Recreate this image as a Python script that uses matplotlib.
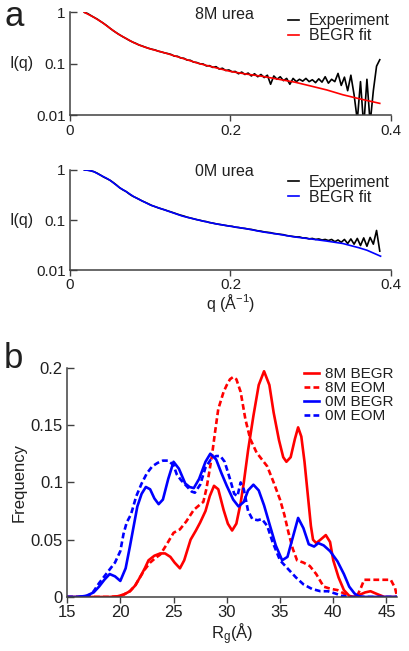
import numpy as np
import matplotlib.pyplot as plt
import matplotlib.transforms as mtransforms

plt.rcParams['font.family'] = ['Liberation Sans', 'DejaVu Sans']
plt.rcParams['mathtext.fontset'] = 'custom'
plt.rcParams['mathtext.rm'] = 'Liberation Sans'
plt.rcParams['mathtext.it'] = 'Liberation Sans:italic'

# ---- panel a : SAXS profiles ----
q_exp = np.round(0.018 + 0.004 * np.arange(93), 3)

I_exp_8M = [1.00, 0.95, 0.87, 0.80, 0.74, 0.67, 0.61, 0.55, 0.49, 0.44,
            0.40, 0.365, 0.335, 0.31, 0.285, 0.265, 0.25, 0.232, 0.222, 0.21,
            0.20, 0.192, 0.186, 0.176, 0.17, 0.163, 0.158, 0.152, 0.141, 0.140,
            0.130, 0.128, 0.118, 0.117, 0.108, 0.106, 0.100, 0.099, 0.091, 0.092,
            0.085, 0.088, 0.079, 0.082, 0.074, 0.076, 0.070, 0.071, 0.064, 0.069,
            0.062, 0.066, 0.058, 0.064, 0.056, 0.062, 0.054, 0.060, 0.040, 0.058,
            0.050, 0.056, 0.047, 0.052, 0.040, 0.052, 0.045, 0.050, 0.046, 0.052,
            0.045, 0.049, 0.043, 0.051, 0.044, 0.056, 0.042, 0.050, 0.045, 0.065,
            0.038, 0.055, 0.030, 0.060, 0.025, 0.008, 0.045, 0.006, 0.050, 0.007,
            0.030, 0.090, 0.120]

I_exp_0M = [1.00, 0.99, 0.96, 0.92, 0.86, 0.79, 0.72, 0.67, 0.62, 0.56,
            0.50, 0.44, 0.40, 0.37, 0.33, 0.30, 0.28, 0.26, 0.24, 0.225,
            0.21, 0.195, 0.185, 0.175, 0.167, 0.16, 0.152, 0.145, 0.138, 0.131,
            0.125, 0.12, 0.114, 0.11, 0.106, 0.102, 0.099, 0.095, 0.093, 0.089,
            0.087, 0.084, 0.082, 0.080, 0.078, 0.076, 0.075, 0.072, 0.071, 0.069,
            0.068, 0.066, 0.065, 0.063, 0.061, 0.060, 0.058, 0.057, 0.056, 0.054,
            0.053, 0.052, 0.051, 0.049, 0.048, 0.047, 0.046, 0.046, 0.044, 0.044,
            0.042, 0.043, 0.041, 0.042, 0.040, 0.041, 0.039, 0.041, 0.037, 0.040,
            0.036, 0.041, 0.034, 0.042, 0.033, 0.043, 0.031, 0.044, 0.030, 0.045,
            0.033, 0.062, 0.024]

q_fit_8M = [0.018, 0.03, 0.04, 0.05, 0.06, 0.07, 0.08, 0.09, 0.10, 0.12, 0.14,
            0.16, 0.18, 0.20, 0.22, 0.24, 0.26, 0.28, 0.30, 0.32, 0.34, 0.36, 0.386]
I_fit_8M = [1.0, 0.80, 0.64, 0.49, 0.38, 0.31, 0.255, 0.22, 0.195, 0.16, 0.128,
            0.102, 0.085, 0.071, 0.063, 0.057, 0.050, 0.044, 0.037, 0.031, 0.025,
            0.021, 0.017]

q_fit_0M = [0.018, 0.025, 0.03, 0.037, 0.045, 0.05, 0.062, 0.07, 0.08, 0.09, 0.10,
            0.12, 0.14, 0.16, 0.18, 0.20, 0.22, 0.24, 0.26, 0.28, 0.30, 0.32, 0.34,
            0.36, 0.37, 0.387]
I_fit_0M = [1.0, 0.97, 0.92, 0.80, 0.69, 0.62, 0.44, 0.37, 0.29, 0.24, 0.20,
            0.155, 0.12, 0.10, 0.085, 0.075, 0.067, 0.058, 0.052, 0.046, 0.042,
            0.038, 0.034, 0.028, 0.025, 0.019]

# ---- panel b : Rg distributions ----
rg_8M_begr = [15, 19, 19.7, 20.3, 20.9, 21.4, 21.9, 22.3, 22.65, 23.2, 23.75, 24.2,
              24.7, 25.1, 25.6, 26.0, 26.6, 27.1, 27.5, 28.0, 28.4, 28.8, 29.2, 29.7,
              30.1, 30.5, 30.9, 31.3, 31.6, 32.0, 32.5, 33.0, 33.5, 34.0, 34.4, 34.9,
              35.3, 35.6, 36.0, 36.4, 36.7, 37.0, 37.3, 37.6, 37.9, 38.1, 38.4, 38.8,
              39.3, 39.7, 40.0, 40.5, 41.0, 41.5, 41.9, 42.5, 43.0, 43.5, 44.0, 44.8, 46]
f_8M_begr = [0, 0, 0.0005, 0.002, 0.005, 0.010, 0.018, 0.025, 0.032, 0.036, 0.038, 0.038,
             0.035, 0.030, 0.025, 0.032, 0.050, 0.058, 0.065, 0.075, 0.088, 0.097, 0.094, 0.076,
             0.064, 0.058, 0.064, 0.082, 0.100, 0.128, 0.158, 0.185, 0.197, 0.185, 0.161, 0.137,
             0.122, 0.118, 0.122, 0.138, 0.148, 0.140, 0.118, 0.090, 0.062, 0.050, 0.047, 0.050,
             0.054, 0.048, 0.032, 0.017, 0.006, 0.001, 0, 0.002, 0.004, 0.005, 0.003, 0, 0]

rg_8M_eom = [15, 19, 19.7, 20.3, 20.9, 21.4, 21.9, 22.3, 22.8, 23.3, 23.75, 24.3, 25.0,
             25.6, 26.2, 26.9, 27.4, 27.8, 28.1, 28.3, 28.6, 28.9, 29.2, 29.7, 30.0,
             30.3, 30.6, 30.9, 31.3, 31.75, 32.2, 32.8, 33.8, 34.4, 35.0, 35.4, 35.8,
             36.2, 36.6, 37.2, 37.8, 38.4, 39.1, 39.8, 40.4, 41.0, 41.5, 42.2, 42.6,
             42.9, 43.4, 44.5, 45.4, 45.8, 46]
f_8M_eom = [0, 0, 0.0005, 0.002, 0.005, 0.010, 0.018, 0.024, 0.030, 0.034, 0.037, 0.045, 0.056,
            0.059, 0.066, 0.076, 0.080, 0.083, 0.095, 0.106, 0.123, 0.144, 0.164, 0.179, 0.185,
            0.190, 0.192, 0.190, 0.179, 0.155, 0.138, 0.126, 0.114, 0.100, 0.085, 0.072, 0.056,
            0.042, 0.032, 0.030, 0.027, 0.020, 0.009, 0.007, 0.006, 0.003, 0, 0, 0.008,
            0.015, 0.015, 0.015, 0.015, 0.008, 0]

rg_0M_begr = [15, 16, 16.8, 17.5, 18.0, 18.5, 19.0, 19.5, 20.0, 20.5, 20.9, 21.3, 21.6,
              22.0, 22.4, 22.8, 23.2, 23.6, 24.0, 24.5, 25.0, 25.5, 26.1, 26.5, 26.9,
              27.4, 28.0, 28.45, 29.0, 29.5, 30.0, 30.6, 31.1, 31.6, 32.0, 32.5, 33.0,
              33.5, 34.0, 34.6, 35.2, 35.7, 36.2, 36.7, 37.2, 37.7, 38.2, 38.6, 39.1,
              39.7, 40.4, 41.0, 41.5, 42.0, 42.4, 43, 44, 45, 46]
f_0M_begr = [0, 0, 0.001, 0.004, 0.009, 0.015, 0.020, 0.018, 0.014, 0.025, 0.044, 0.064, 0.079,
             0.090, 0.096, 0.094, 0.086, 0.081, 0.085, 0.103, 0.118, 0.112, 0.099, 0.096, 0.095,
             0.103, 0.118, 0.125, 0.120, 0.108, 0.097, 0.085, 0.079, 0.083, 0.093, 0.098, 0.093,
             0.080, 0.064, 0.045, 0.032, 0.035, 0.052, 0.069, 0.060, 0.046, 0.044, 0.047, 0.045,
             0.040, 0.031, 0.020, 0.009, 0.003, 0.0005, 0, 0, 0, 0]

rg_0M_eom = [15, 16, 17, 17.5, 18.0, 18.5, 19.0, 19.5, 20.0, 20.3, 20.6, 21.0, 21.5, 22.0,
             22.5, 23.0, 23.5, 24.0, 24.5, 25.0, 25.3, 25.7, 26.2, 26.7, 27.0, 27.5, 28.0,
             28.5, 29.0, 29.4, 29.8, 30.3, 30.7, 31.0, 31.3, 31.6, 32.0, 32.4, 32.9, 33.3,
             33.8, 34.3, 35.0, 35.8, 36.5, 37.2, 38.0, 38.8, 39.5, 40.2, 40.8, 41.5, 42, 44, 46]
f_0M_eom = [0, 0, 0.001, 0.005, 0.012, 0.018, 0.024, 0.030, 0.040, 0.055, 0.065, 0.072, 0.088, 0.099,
            0.108, 0.114, 0.117, 0.119, 0.119, 0.115, 0.107, 0.102, 0.097, 0.092, 0.091, 0.098, 0.113,
            0.120, 0.123, 0.123, 0.118, 0.103, 0.090, 0.088, 0.100, 0.094, 0.075, 0.068, 0.067, 0.068,
            0.062, 0.048, 0.032, 0.024, 0.017, 0.011, 0.007, 0.005, 0.005, 0.003, 0.001, 0, 0, 0, 0]

fig = plt.figure(figsize=(4.09, 6.51), dpi=100)
spine_col = '#404040'
txt_col = '#202020'


def style(ax, fs):
    for s in ['top', 'right']:
        ax.spines[s].set_visible(False)
    for s in ['left', 'bottom']:
        ax.spines[s].set_color(spine_col)
        ax.spines[s].set_linewidth(1.1)
    ax.tick_params(axis='y', direction='in', length=5, width=1, color=spine_col,
                   labelsize=fs, labelcolor=txt_col, pad=3)
    ax.tick_params(axis='x', direction='out', length=4, width=1, color=spine_col,
                   labelsize=fs, labelcolor=txt_col, pad=2)
    ax.minorticks_off()


# SAXS panels
for i, (label, fitcol, Iexp, qf, If) in enumerate([
        ('8M urea', 'red', I_exp_8M, q_fit_8M, I_fit_8M),
        ('0M urea', 'blue', I_exp_0M, q_fit_0M, I_fit_0M)]):
    if i == 0:
        ax = fig.add_axes([0.171, 0.823, 0.785, 0.158])
    else:
        ax = fig.add_axes([0.171, 0.585, 0.785, 0.154])
    ax.plot(q_exp, Iexp, color='black', lw=1.2, label='Experiment')
    ax.plot(qf, If, color=fitcol, lw=1.2, label='BEGR fit')
    ax.set_yscale('log')
    ax.set_ylim(0.01, 1)
    ax.set_xlim(0, 0.4)
    ax.set_yticks([0.01, 0.1, 1])
    ax.set_yticklabels(['0.01', '0.1', '1'])
    ax.set_xticks([0, 0.2, 0.4])
    ax.set_xticklabels(['0', '0.2', '0.4'])
    style(ax, 11)
    ax.text(0.48, 0.98, label, transform=ax.transAxes, ha='center', va='center',
            fontsize=11.5, color=txt_col)
    trans = mtransforms.blended_transform_factory(ax.transAxes, ax.transData)
    ax.text(-0.15, 0.1, 'I(q)', transform=trans, ha='center', va='center',
            fontsize=11.5, color=txt_col)
    ax.legend(loc='upper left', bbox_to_anchor=(0.655, 1.07 if i == 0 else 1.03),
              frameon=False, fontsize=11.5, handlelength=0.7, handletextpad=0.6,
              labelspacing=0.0, borderpad=0, labelcolor=txt_col)
    if i == 1:
        ax.set_xlabel('q (Å$^{-1}$)', fontsize=11.5, color=txt_col, labelpad=0)

fig.text(0.01, 0.975, 'a', fontsize=25, color=txt_col, va='center')
fig.text(0.01, 0.45, 'b', fontsize=25, color=txt_col, va='center')

# Rg distribution panel
axb = fig.add_axes([0.164, 0.083, 0.807, 0.352])
axb.plot(rg_8M_begr, f_8M_begr, color='red', lw=1.9, label='8M BEGR')
axb.plot(rg_8M_eom, f_8M_eom, color='red', lw=1.9, ls=(0, (2.2, 1.2)), label='8M EOM')
axb.plot(rg_0M_begr, f_0M_begr, color='blue', lw=1.9, label='0M BEGR')
axb.plot(rg_0M_eom, f_0M_eom, color='blue', lw=1.9, ls=(0, (2.2, 1.2)), label='0M EOM')
axb.set_xlim(15, 46)
axb.set_ylim(0, 0.2)
axb.set_xticks([15, 20, 25, 30, 35, 40, 45])
axb.set_yticks([0, 0.05, 0.1, 0.15, 0.2])
axb.set_yticklabels(['0', '0.05', '0.1', '0.15', '0.2'])
style(axb, 12)
axb.set_xlabel('R$_{\\mathrm{g}}$(Å)', fontsize=12, color=txt_col, labelpad=1)
axb.set_ylabel('Frequency', fontsize=12, color=txt_col, labelpad=3)
axb.legend(loc='upper left', bbox_to_anchor=(0.695, 1.035), frameon=False,
           fontsize=11, handlelength=1.0, handletextpad=0.4, labelspacing=0.0,
           borderpad=0, labelcolor=txt_col)

fig.savefig('out.png', dpi=100)
